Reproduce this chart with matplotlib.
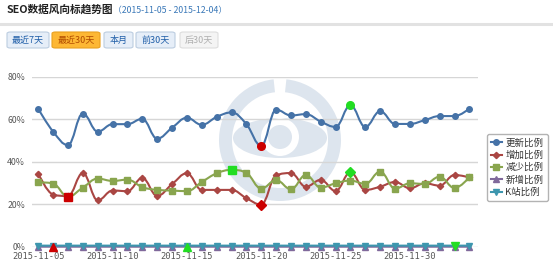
import numpy as np
import matplotlib.pyplot as plt
from matplotlib.path import Path
from matplotlib.patches import PathPatch, FancyBboxPatch, Wedge, Ellipse, Circle
from matplotlib.lines import Line2D

plt.rcParams['font.family'] = ['Noto Sans CJK SC', 'DejaVu Sans']

W, H = 553, 264

dates = ['2015-11-%02d' % d for d in range(5, 31)] + ['2015-12-%02d' % d for d in range(1, 5)]
update = [64.8, 54.1, 47.8, 62.6, 54.1, 57.6, 57.6, 60.1, 50.8, 55.9,
          60.6, 57.3, 61.0, 63.1, 57.6, 47.4, 64.4, 61.7, 62.3, 58.8,
          56.3, 66.5, 56.3, 63.7, 57.7, 57.7, 59.5, 61.4, 61.4, 64.9]
increase = [34.4, 24.5, 23.8, 34.6, 21.8, 26.4, 26.1, 32.3, 23.9, 29.4,
            34.5, 26.7, 26.7, 26.7, 22.8, 19.8, 33.5, 34.6, 28.2, 31.4,
            26.2, 35.0, 26.7, 28.2, 30.4, 27.5, 29.8, 28.7, 33.7, 32.6]
decrease = [30.3, 29.7, 23.5, 27.8, 32.0, 30.9, 31.5, 28.0, 26.7, 26.4,
            26.1, 30.4, 34.5, 36.1, 34.7, 27.3, 31.3, 27.0, 33.7, 27.8,
            29.8, 31.1, 29.5, 35.3, 27.3, 29.8, 29.5, 32.9, 27.6, 32.6]
new_add = [0.0] * 30
k_site = [0.5] * 30

names = ['更新比例', '增加比例', '减少比例', '新增比例', 'K站比例']
series = [update, increase, decrease, new_add, k_site]
colors = ['#4572A7', '#AA4643', '#89A54E', '#80699B', '#3D96AE']
markers = ['o', 'D', 's', '^', 'v']
msizes = [4.0, 3.2, 3.8, 3.8, 3.8]
# (max index, min index) highlighted by the chart
highlights = [(21, 15), (21, 15), (13, 2), (10, 1), (28, None)]


def spline_path(xs, ys, smoothing=1.5):
    n = len(xs)
    left = [(xs[i], ys[i]) for i in range(n)]
    right = [(xs[i], ys[i]) for i in range(n)]
    d = smoothing + 1
    for i in range(1, n - 1):
        px, py = xs[i], ys[i]
        lx, ly = xs[i - 1], ys[i - 1]
        nx, ny = xs[i + 1], ys[i + 1]
        lcx = (smoothing * px + lx) / d
        lcy = (smoothing * py + ly) / d
        rcx = (smoothing * px + nx) / d
        rcy = (smoothing * py + ny) / d
        corr = (rcy - lcy) * (rcx - px) / (rcx - lcx) + py - rcy
        lcy += corr
        rcy += corr
        if lcy > ly and lcy > py:
            lcy = max(ly, py); rcy = 2 * py - lcy
        elif lcy < ly and lcy < py:
            lcy = min(ly, py); rcy = 2 * py - lcy
        if rcy > ny and rcy > py:
            rcy = max(ny, py); lcy = 2 * py - rcy
        elif rcy < ny and rcy < py:
            rcy = min(ny, py); lcy = 2 * py - rcy
        left[i] = (lcx, lcy)
        right[i] = (rcx, rcy)
    verts = [(xs[0], ys[0])]
    codes = [Path.MOVETO]
    for i in range(1, n):
        verts += [right[i - 1], left[i], (xs[i], ys[i])]
        codes += [Path.CURVE4] * 3
    return Path(verts, codes)


fig = plt.figure(figsize=(W / 100, H / 100), dpi=100)

# header
fig.text(7 / W, 1 - 10 / H, 'SEO数据风向标趋势图', fontsize=7.7, fontweight='bold',
         color='#222222', va='center', ha='left')
fig.text(113 / W, 1 - 10.5 / H, '（2015-11-05 - 2015-12-04）', fontsize=6.3,
         color='#3a78b8', va='center', ha='left')
fig.add_artist(Line2D([0, 1], [1 - 24 / H] * 2, color='#e2e2e2', lw=2.2))

buttons = [('最近7天', 7, 49), ('最近30天', 52, 100), ('本月', 104, 133),
           ('前30天', 136, 175), ('后30天', 180, 218)]
for i, (label, x0, x1) in enumerate(buttons):
    if i == 1:
        fc, ec, tc = '#fdb734', '#e8a020', '#b04a00'
    elif i == 4:
        fc, ec, tc = '#f4f4f4', '#dddddd', '#b0b0b0'
    else:
        fc, ec, tc = '#e6eef8', '#bccde0', '#1f5ea8'
    fig.add_artist(FancyBboxPatch((x0 / W, 1 - 48 / H), (x1 - x0) / W, 16 / H,
                                  boxstyle='round,pad=0,rounding_size=0.006',
                                  transform=fig.transFigure, fc=fc, ec=ec, lw=0.8))
    fig.text((x0 + x1) / 2 / W, 1 - 40 / H, label, fontsize=6.5, color=tc,
             ha='center', va='center')

# faint watermark behind the plot (inches)
wm = '#dde5ee'
cx, cy = 2.80, (H - 140) / 100
fig.add_artist(Wedge((cx, cy), 0.61, 96, 444, width=0.13,
                     transform=fig.dpi_scale_trans, fc=wm, ec='none', zorder=-2))
fig.add_artist(Ellipse((cx, cy + 0.02), 0.94, 0.40, transform=fig.dpi_scale_trans,
                       fc=wm, ec='none', zorder=-2))
fig.add_artist(Circle((cx, cy + 0.03), 0.19, transform=fig.dpi_scale_trans,
                      fc='white', ec='none', zorder=-2))
fig.add_artist(Circle((cx, cy + 0.03), 0.12, transform=fig.dpi_scale_trans,
                      fc=wm, ec='none', zorder=-2))

ax = fig.add_axes([32 / W, (H - 246.7) / H, (478 - 32) / W, (246.7 - 76.5) / H])
ax.patch.set_alpha(0)
x = np.arange(len(dates))
ax.set_xlim(-0.42, 29.58)
ax.set_ylim(0, 80)
for s in ax.spines.values():
    s.set_visible(False)
ax.set_yticks([0, 20, 40, 60, 80])
ax.set_yticklabels(['%d%%' % v for v in [0, 20, 40, 60, 80]])
ax.grid(axis='y', color='#d6d6d6', lw=1)
ax.set_axisbelow(True)
ax.set_xticks(x[::5])
ax.set_xticklabels(dates[::5], family=['DejaVu Sans Mono'])
ax.tick_params(axis='both', length=0, labelsize=6.3, colors='#555555')
ax.tick_params(axis='x', pad=4)
ax.tick_params(axis='y', pad=5)

handles = []
for vals, c, m, ms, (imax, imin), name in zip(series, colors, markers, msizes, highlights, names):
    ax.add_patch(PathPatch(spline_path(x, vals), fc='none', ec=c, lw=1.5,
                           clip_on=False, zorder=3))
    ax.plot(x, vals, ls='none', marker=m, ms=ms, color=c, clip_on=False, zorder=4)
    if imax is not None:
        ax.plot(x[imax], vals[imax], ls='none', marker=m, ms=ms + 1.5,
                color='#22dd22', clip_on=False, zorder=5)
    if imin is not None:
        ax.plot(x[imin], vals[imin], ls='none', marker=m, ms=ms + 1.5,
                color='#cc0000', clip_on=False, zorder=5)
    handles.append(Line2D([], [], color=c, marker=m, ms=ms, lw=1.5, label=name))

leg = ax.legend(handles=handles, loc='upper left', bbox_to_anchor=(487 / W, 1 - 134 / H),
                bbox_transform=fig.transFigure, fontsize=6.8, frameon=True, fancybox=True,
                edgecolor='#a0a0a0', handlelength=1.1, handletextpad=0.4,
                labelspacing=0.32, borderpad=0.45, borderaxespad=0)
for t in leg.get_texts():
    t.set_color('#333333')

fig.savefig('out.png', dpi=100)
